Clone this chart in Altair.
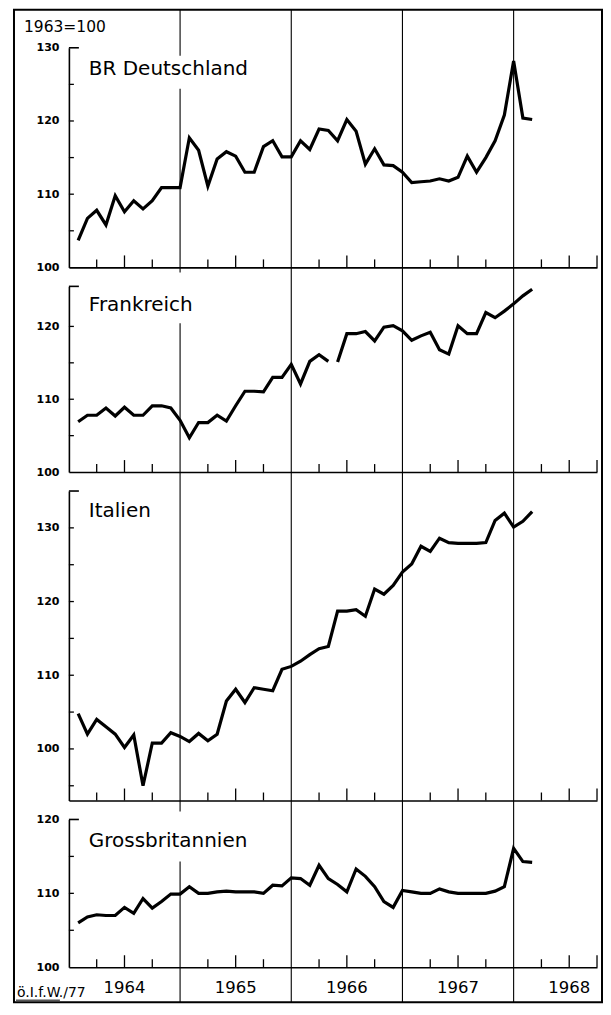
import altair as alt
import pandas as pd

# ---------------- data ----------------
months = [f"{y}-{m:02d}" for y in range(1964, 1969) for m in range(1, 13)][:50]

germany = [103.7, 106.7, 107.8, 105.8, 109.8, 107.6, 109.1, 108.0, 109.1, 110.9, 110.9, 110.9,
           117.7, 116.0, 111.1, 114.8, 115.8, 115.2, 113.0, 113.0, 116.5, 117.3, 115.1, 115.1,
           117.3, 116.1, 118.9, 118.7, 117.3, 120.2, 118.6, 114.1, 116.2, 114.0, 113.9, 113.0,
           111.6, 111.7, 111.8, 112.1, 111.8, 112.3, 115.2, 113.0, 115.0, 117.3, 120.8, 128.2,
           120.4, 120.2]
france = [106.9, 107.8, 107.8, 108.8, 107.7, 108.9, 107.8, 107.8, 109.1, 109.1, 108.8, 107.1,
          104.7, 106.8, 106.8, 107.8, 107.0, 109.1, 111.1, 111.1, 111.0, 113.0, 113.0, 114.8,
          112.1, 115.2, 116.1, 115.2, 115.1, 119.0, 119.0, 119.3, 118.0, 119.9, 120.1, 119.4,
          118.1, 118.7, 119.2, 116.8, 116.2, 120.1, 119.0, 119.0, 121.9, 121.2, 122.1, 123.1,
          124.2, 125.1]
france_break_after = "1966-04"
italy = [104.8, 102.0, 104.0, 103.0, 102.0, 100.2, 101.9, 95.0, 100.8, 100.8, 102.2, 101.7,
         101.0, 102.1, 101.1, 102.0, 106.5, 108.1, 106.3, 108.3, 108.1, 107.9, 110.8, 111.2,
         111.9, 112.8, 113.6, 113.9, 118.7, 118.7, 118.9, 118.0, 121.7, 121.0, 122.2, 124.0,
         125.1, 127.5, 126.8, 128.6, 128.0, 127.9, 127.9, 127.9, 128.0, 131.0, 132.0, 130.1,
         130.9, 132.2]
gb = [106.0, 106.8, 107.1, 107.0, 107.0, 108.1, 107.3, 109.3, 108.0, 108.9, 109.9, 109.9,
      110.9, 110.0, 110.0, 110.2, 110.3, 110.2, 110.2, 110.2, 110.0, 111.1, 111.0, 112.1,
      112.0, 111.1, 113.8, 112.0, 111.2, 110.2, 113.3, 112.3, 110.9, 108.9, 108.1, 110.4,
      110.2, 110.0, 110.0, 110.6, 110.2, 110.0, 110.0, 110.0, 110.0, 110.3, 110.9, 116.1,
      114.3, 114.2]

years = [1964, 1965, 1966, 1967, 1968]
year_lines = [1965, 1966, 1967, 1968]
quarter_ticks = [1964.25, 1964.75, 1965.25, 1965.75, 1966.25, 1966.75, 1967.25, 1967.75, 1968.25]
half_ticks = [1964.5, 1965.5, 1966.5, 1967.5, 1968.5, 1968.75]

names = ["BR Deutschland", "Frankreich", "Italien", "Grossbritannien"]
y_domains = [[100, 130], [100, 125.5], [93, 135], [100, 120]]
y_labels = [[100, 110, 120, 130], [100, 110, 120], [100, 110, 120, 130], [100, 110, 120]]
y_ticks = [[105, 110, 115, 120, 125], [105, 110, 115, 120], [95, 100, 105, 110, 115, 120, 125, 130],
           [105, 110, 115]]
base_text = "1963=100"
credit = "ö.I.f.W./77"

# ---------------- styling ----------------
FONT = "DejaVu Sans"
X0, X1 = 1964, 1968.75
W = 529
heights = [220, 186, 310, 148]
SPACING = 19


def dec_year(m):
    y, mm = m.split("-")
    return int(y) + int(mm) / 12.0


def xenc(field):
    return alt.X(field, type="quantitative",
                 scale=alt.Scale(domain=[X0, X1], nice=False, zero=False),
                 axis=alt.Axis(title=None, labels=False, ticks=False, tickSize=0, grid=False,
                               domainColor="black", domainWidth=1.6, orient="bottom"))


def yenc(field, dom, labels):
    return alt.Y(field, type="quantitative",
                 scale=alt.Scale(domain=dom, nice=False, zero=False),
                 axis=alt.Axis(title=None, values=labels, ticks=False, tickSize=0, grid=False,
                               labelPadding=10, labelFont=FONT, labelFontSize=11,
                               labelFontWeight="bold", labelColor="black",
                               domainColor="black", domainWidth=1.6,
                               labelFlush=False, labelOverlap=False))


one = pd.DataFrame({"k": [0]})
# white boxes behind the country names (pixel style offsets)
label_boxes = [(6, 193, 8, 41), (6, 136, -14, 37), None, (6, 193, -8, 42)]
label_y = [21, 19, 20, 22]

total_h = sum(heights) + SPACING * 3
frame_top = -38
frame_bottom = total_h + 35

panels = []
for i, (name, vals) in enumerate(zip(names, [germany, france, italy, gb])):
    h = heights[i]
    dom = y_domains[i]
    labs = y_labels[i]
    df = pd.DataFrame({"month": months, "v": vals})
    df["x"] = df["month"].apply(dec_year)
    if i == 1:
        cut = dec_year(france_break_after)
        df["seg"] = (df["x"] > cut + 1e-9).astype(int)
    else:
        df["seg"] = 0

    layers = []
    if i == 0:
        frame = alt.Chart(one).mark_rect(filled=False, stroke="black", strokeWidth=2).encode(
            x=alt.value(-55), x2=alt.value(534), y=alt.value(frame_top), y2=alt.value(frame_bottom))
        ylines = alt.Chart(pd.DataFrame({"yr": year_lines})).mark_rule(
            color="black", strokeWidth=1.1).encode(
            x=xenc("yr"), y=alt.value(frame_top), y2=alt.value(frame_bottom))
        layers += [frame, ylines]
    box = label_boxes[i]
    if box is not None:
        layers.append(alt.Chart(one).mark_rect(fill="white", strokeWidth=0).encode(
            x=alt.value(box[0]), x2=alt.value(box[1]), y=alt.value(box[2]), y2=alt.value(box[3])))

    yt = alt.Chart(pd.DataFrame({"t": y_ticks[i]})).mark_rule(color="black", strokeWidth=1.3).encode(
        y=yenc("t", dom, labs), x=alt.value(0), x2=alt.value(5))
    ytop = alt.Chart(pd.DataFrame({"t": [dom[1]]})).mark_rule(color="black", strokeWidth=1.6).encode(
        y=yenc("t", dom, labs), x=alt.value(0), x2=alt.value(10))
    qt = alt.Chart(pd.DataFrame({"q": quarter_ticks})).mark_rule(color="black", strokeWidth=1.3).encode(
        x=xenc("q"), y=alt.value(h), y2=alt.value(h - 8))
    ht = alt.Chart(pd.DataFrame({"q": half_ticks})).mark_rule(color="black", strokeWidth=1.3).encode(
        x=xenc("q"), y=alt.value(h), y2=alt.value(h - 12))
    line = alt.Chart(df).mark_line(color="black", strokeWidth=3.2, strokeJoin="miter").encode(
        x=xenc("x"), y=yenc("v", dom, labs), detail=alt.Detail("seg:N"))
    lab = alt.Chart(one).mark_text(align="left", baseline="middle", font=FONT, fontSize=20,
                                   color="black").encode(
        x=alt.value(20), y=alt.value(label_y[i]), text=alt.value(name))
    layers += [yt, ytop, qt, ht, line, lab]

    if i == 0:
        layers.append(alt.Chart(one).mark_text(align="left", baseline="middle", font=FONT,
                                               fontSize=15.5, color="black").encode(
            x=alt.value(-45), y=alt.value(-21), text=alt.value(base_text)))
    if i == 3:
        ydf = pd.DataFrame({"yr": years})
        ydf["c"] = ydf["yr"] + 0.5
        ydf["lbl"] = ydf["yr"].astype(str)
        layers.append(alt.Chart(ydf).mark_text(align="center", baseline="middle", font=FONT,
                                               fontSize=16.5, color="black").encode(
            x=xenc("c"), y=alt.value(h + 21), text="lbl:N"))
        layers.append(alt.Chart(one).mark_text(align="left", baseline="middle", font=FONT,
                                               fontSize=14, color="black").encode(
            x=alt.value(-52), y=alt.value(h + 26), text=alt.value(credit)))
        layers.append(alt.Chart(one).mark_rule(color="black", strokeWidth=1).encode(
            x=alt.value(-53), x2=alt.value(-9), y=alt.value(h + 33)))

    panels.append(alt.layer(*layers).properties(width=W, height=h))

chart = alt.vconcat(*panels, spacing=SPACING, bounds="flush").properties(
    padding={"left": 5, "top": 0, "right": 0, "bottom": 0},
    background="white",
).configure_view(strokeWidth=0)

chart.save("out.html", embed_options={"renderer": "svg", "actions": False})
